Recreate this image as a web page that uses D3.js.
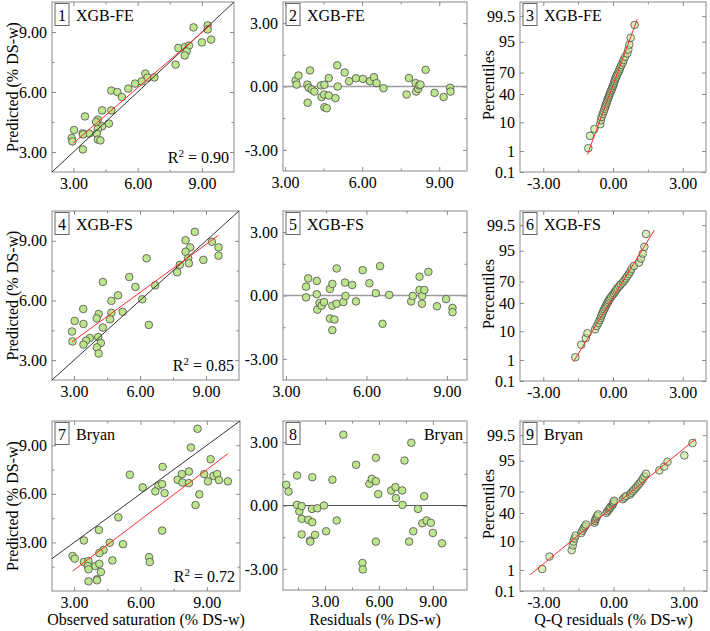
<!DOCTYPE html>
<html>
<head>
<meta charset="utf-8">
<script src="https://cdn.jsdelivr.net/npm/d3@7"></script>
<style>
body { margin: 0; background: #fff; }
svg text { font-family: "Liberation Serif", "DejaVu Serif", serif; fill: #000; }
</style>
</head>
<body>
<div id="chart"></div>
<script>

// ---- data ----
var modelNames = ["XGB-FE", "XGB-FS", "Bryan"];
var r2Labels = ["0.90", "0.85", "0.72"];
var valueTicks = [3, 6, 9];
var valueMinor = [1.5, 4.5, 7.5];
var residTicks = [-3, 0, 3];
var residMinor = [-1.5, 1.5];
var pctTicks = [0.1, 1, 10, 40, 70, 95, 99.5];

// XGB-FE
var obsFE = [8.61, 9.27, 9.27, 9.00, 9.43, 7.90, 8.21, 8.40, 8.29, 8.20, 7.77, 6.36, 6.46, 6.78, 6.19, 5.88, 5.56, 4.77, 5.05, 5.26,
    4.77, 4.34, 3.54, 4.14, 4.06, 4.66, 4.34, 4.14, 3.03, 3.43, 3.74, 4.09, 3.45, 2.92, 2.95, 4.14, 4.26, 3.44];
var predFE = [9.23, 9.33, 9.13, 8.48, 8.62, 8.20, 8.25, 8.32, 8.03, 7.83, 7.37, 6.92, 6.72, 6.73, 6.53, 6.42, 6.17, 6.07, 6.00, 5.75,
    5.08, 5.08, 4.78, 4.62, 4.50, 4.42, 4.28, 4.15, 4.10, 3.93, 3.92, 3.92, 3.88, 3.70, 3.53, 3.62, 3.58, 3.13];
var fitFE = [[3.00, 3.45], [9.43, 9.37]];
var fittedFE = [3.41, 3.45, 3.52, 3.97, 3.87, 3.92, 3.88, 4.04, 4.14, 4.40, 4.53, 4.42, 4.52, 4.53, 4.62, 4.70, 4.70, 4.96, 5.03, 5.05,
    5.32, 5.49, 5.76, 6.03, 6.30, 6.46, 6.56, 6.83, 7.73, 7.82, 8.08, 8.10, 8.18, 8.22, 8.27, 8.47, 8.82, 9.17, 9.42, 9.44];
var residFE = [0.28, 0.09, 0.52, 0.76, 0.09, -0.06, -0.77, -0.14, -0.24, 0.05, 0.08, -0.50, -0.38, -0.98, -1.03, -0.43, 0.40, -0.55, 1.00, 0.00,
    0.66, 0.25, 0.39, 0.36, 0.25, 0.44, 0.16, -0.08, -0.38, 0.40, 0.16, -0.24, -0.11, 0.05, 0.09, 0.79, -0.30, -0.50, -0.06, -0.24];
var qqFE = [-1.06, -0.99, -0.80, -0.55, -0.52, -0.49, -0.44, -0.40, -0.36, -0.33, -0.30, -0.27, -0.24, -0.21, -0.18, -0.15, -0.13, -0.10, -0.06, -0.03,
    0.00, 0.03, 0.05, 0.07, 0.10, 0.13, 0.16, 0.20, 0.25, 0.28, 0.32, 0.36, 0.42, 0.46, 0.52, 0.61, 0.66, 0.70, 0.76, 0.93];
var pctFE = [1.3, 3.8, 6.3, 8.8, 11.3, 13.8, 16.3, 18.8, 21.3, 23.8, 26.3, 28.8, 31.3, 33.8, 36.3, 38.8, 41.3, 43.8, 46.3, 48.8,
    51.3, 53.8, 56.3, 58.8, 61.3, 63.8, 66.3, 68.8, 71.3, 73.8, 76.3, 78.8, 81.3, 83.8, 86.3, 88.8, 91.3, 93.8, 96.3, 98.8];
var qqLineFE = [[-1.10, 0.7], [1.04, 99.3]];

// XGB-FS
var obsFS = [8.49, 8.07, 9.27, 8.28, 8.07, 9.57, 9.57, 8.19, 8.88, 8.22, 6.30, 7.81, 7.69, 5.51, 4.31, 5.79, 6.69, 5.00, 4.70, 6.10,
    3.42, 4.12, 5.21, 4.70, 4.03, 4.64, 3.03, 3.43, 6.40, 4.31, 2.91, 2.93, 3.72, 3.55, 4.10, 3.43, 4.22, 4.04, 4.12];
var predFS = [9.45, 9.03, 8.95, 8.67, 8.45, 8.67, 8.25, 8.12, 8.04, 7.87, 8.12, 7.79, 7.42, 7.18, 6.93, 6.68, 6.76, 6.26, 5.98, 6.06,
    5.57, 5.32, 5.43, 5.38, 5.10, 5.05, 4.97, 4.82, 4.77, 4.64, 4.44, 3.94, 4.11, 3.98, 4.16, 3.78, 3.86, 3.64, 3.33];
var fitFS = [[2.91, 3.91], [9.57, 9.28]];
var fittedFS = [3.75, 3.75, 3.83, 4.15, 4.15, 4.17, 4.25, 4.33, 4.42, 4.64, 4.73, 4.64, 4.81, 4.73, 4.73, 4.89, 4.89, 5.14, 5.20, 5.22,
    5.47, 5.61, 5.86, 6.11, 6.35, 6.51, 6.60, 6.85, 7.67, 7.73, 7.98, 7.98, 8.07, 8.08, 8.16, 8.31, 8.63, 8.97, 9.21, 9.21];
var residFS = [0.42, -0.09, 0.81, 0.69, 0.06, -0.67, -0.36, -0.48, -0.31, 0.31, 0.55, -1.09, -1.14, -1.64, -0.48, -0.39, 1.28, -0.31, 0.61, -0.02,
    0.50, -0.28, 1.20, 0.58, 0.11, 1.39, -1.34, 0.03, -0.28, -0.02, 0.89, 0.26, -0.39, -0.02, 0.26, 1.12, -0.51, -0.17, -0.59, -0.79];
var qqFS = [-1.62, -1.37, -1.17, -1.10, -0.77, -0.70, -0.63, -0.58, -0.53, -0.50, -0.46, -0.42, -0.38, -0.34, -0.30, -0.26, -0.22, -0.18, -0.13, -0.08,
    -0.02, 0.04, 0.09, 0.14, 0.19, 0.27, 0.33, 0.42, 0.48, 0.55, 0.61, 0.68, 0.75, 0.80, 0.90, 1.12, 1.20, 1.28, 1.35, 1.42];
var pctFS = [1.3, 3.8, 6.3, 8.8, 11.3, 13.8, 16.3, 18.8, 21.3, 23.8, 26.3, 28.8, 31.3, 33.8, 36.3, 38.8, 41.3, 43.8, 46.3, 48.8,
    51.3, 53.8, 56.3, 58.8, 61.3, 63.8, 66.3, 68.8, 71.3, 73.8, 76.3, 78.8, 81.3, 83.8, 86.3, 88.8, 91.3, 93.8, 96.3, 98.8];
var qqLineFS = [[-1.70, 0.85], [1.78, 99.17]];

// Bryan
var obsBr = [8.58, 8.28, 9.17, 5.52, 7.00, 8.19, 7.87, 7.68, 7.90, 8.19, 8.88, 9.30, 9.47, 9.55, 9.05, 9.95, 6.10, 6.81, 6.98, 6.67,
    7.09, 8.66, 8.49, 5.00, 4.12, 6.98, 3.44, 4.61, 5.21, 4.33, 4.14, 2.93, 3.03, 3.44, 3.65, 4.73, 6.39, 6.42, 3.62, 3.96,
    4.14, 3.65, 4.21, 3.65, 4.03, 4.03];
var predBr = [10.02, 8.86, 8.14, 7.18, 7.67, 7.38, 7.22, 6.87, 6.70, 6.66, 7.22, 7.11, 7.22, 6.85, 6.77, 6.77, 6.40, 6.50, 6.60, 6.15,
    6.05, 5.97, 5.31, 4.55, 3.77, 3.73, 3.12, 2.98, 2.89, 2.53, 2.34, 2.16, 2.00, 1.79, 1.85, 1.89, 2.09, 1.79, 1.54, 1.54,
    1.68, 1.34, 1.17, 0.60, 0.72, 0.66];
var fitBr = [[2.93, 1.23], [9.96, 8.49]];
var fittedBr = [0.84, 0.97, 1.44, 1.44, 1.57, 1.70, 1.70, 1.70, 2.07, 2.16, 2.18, 2.29, 2.29, 2.27, 2.44, 2.57, 2.94, 3.06, 3.41, 3.65,
    4.02, 4.73, 5.08, 5.10, 5.47, 5.60, 5.83, 5.83, 5.83, 5.96, 6.68, 6.92, 6.94, 7.29, 7.31, 7.42, 7.80, 7.68, 7.91, 8.17,
    8.41, 8.52, 8.65, 8.89, 9.00, 9.51];
var residBr = [0.98, 0.66, 1.42, 0.03, -0.28, -0.03, -0.63, -1.37, -0.68, -1.66, -1.71, -0.79, 1.34, -0.16, -1.39, -0.13, 0.00, -1.22, 1.22, -0.71,
    3.35, 1.93, -2.72, -3.03, 1.03, 1.26, 1.15, 2.26, -1.71, 0.54, 0.71, 0.87, 0.35, 0.71, 0.03, 2.13, 2.97, -1.71, -1.22, -0.16,
    -0.84, 0.44, -0.71, -0.82, -1.30, -1.79];
var qqBr = [-3.05, -2.74, -1.79, -1.74, -1.71, -1.67, -1.62, -1.38, -1.33, -1.28, -1.22, -1.18, -0.81, -0.79, -0.77, -0.73, -0.70, -0.66, -0.30, -0.26,
    -0.20, -0.16, -0.13, -0.05, -0.02, 0.00, 0.03, 0.40, 0.47, 0.54, 0.71, 0.76, 0.83, 0.90, 0.97, 1.04, 1.11, 1.18, 1.25, 1.32,
    1.39, 1.96, 2.17, 2.31, 3.03, 3.38];
var pctBr = [1.1, 3.3, 5.4, 7.6, 9.8, 12.0, 14.1, 16.3, 18.5, 20.7, 22.8, 25.0, 27.2, 29.3, 31.5, 33.7, 35.9, 38.0, 40.2, 42.4,
    44.6, 46.7, 48.9, 51.1, 53.3, 55.4, 57.6, 59.8, 62.0, 64.1, 66.3, 68.5, 70.7, 72.8, 75.0, 77.2, 79.3, 81.5, 83.7, 85.9,
    88.0, 90.2, 92.4, 94.6, 96.7, 98.9];
var qqLineBr = [[-3.56, 0.63], [3.52, 99.27]];

// ---- layout ----
var panels = [
    {id: "1", kind: "fit", m: 0, box: [52, 234, 2, 172], xd: [2, 10.5], yd: [2, 10.5], x: obsFE, y: predFE, line: fitFE},
    {id: "2", kind: "res", m: 0, box: [283, 467, 2, 171], xd: [2.92, 10.08], yd: [-4, 4], x: fittedFE, y: residFE, zero: "#9c9c9c", zw: 1.5},
    {id: "3", kind: "qq", m: 0, box: [520, 706, 2, 172], xd: [-4, 4], x: qqFE, y: pctFE, line: qqLineFE},
    {id: "4", kind: "fit", m: 1, box: [52, 239, 211, 380], xd: [2, 10.5], yd: [2, 10.5], x: obsFS, y: predFS, line: fitFS},
    {id: "5", kind: "res", m: 1, box: [283, 467, 211, 380], xd: [2.89, 9.75], yd: [-4, 4], x: fittedFS, y: residFS, zero: "#9c9c9c", zw: 1.5},
    {id: "6", kind: "qq", m: 1, box: [520, 706, 211, 381], xd: [-4, 4], x: qqFS, y: pctFS, line: qqLineFS},
    {id: "7", kind: "fit", m: 2, box: [52, 240, 421, 591], xd: [2, 10.5], yd: [0, 10.5], x: obsBr, y: predBr, line: fitBr,
        xTitle: "Observed saturation (% DS-w)"},
    {id: "8", kind: "res", m: 2, box: [283, 467, 421, 590], xd: [0.66, 10.9], yd: [-4, 4], x: fittedBr, y: residBr, zero: "#555", zw: 1,
        nameRight: true, xTitle: "Residuals (% DS-w)"},
    {id: "9", kind: "qq", m: 2, box: [520, 707, 421, 591], xd: [-4, 4], x: qqBr, y: pctBr, line: qqLineBr,
        xTitle: "Q-Q residuals (% DS-w)"}
];

// inverse normal CDF (Acklam), for the probability axis
function probit(p) {
    var a = [-3.969683028665376e+01, 2.209460984245205e+02, -2.759285104469687e+02, 1.383577518672690e+02, -3.066479806614716e+01, 2.506628277459239e+00];
    var b = [-5.447609879822406e+01, 1.615858368580409e+02, -1.556989798598866e+02, 6.680131188771972e+01, -1.328068155288572e+01];
    var c = [-7.784894002430293e-03, -3.223964580411365e-01, -2.400758277161838e+00, -2.549671348283232e+00, 4.374664141464968e+00, 2.938163982698783e+00];
    var d = [7.784695709041462e-03, 3.224671290700398e-01, 2.445134137142996e+00, 3.754408661907416e+00];
    var q, r;
    if (p < 0.02425) {
        q = Math.sqrt(-2 * Math.log(p));
        return (((((c[0] * q + c[1]) * q + c[2]) * q + c[3]) * q + c[4]) * q + c[5]) / ((((d[0] * q + d[1]) * q + d[2]) * q + d[3]) * q + 1);
    }
    if (p > 1 - 0.02425) {
        q = Math.sqrt(-2 * Math.log(1 - p));
        return -(((((c[0] * q + c[1]) * q + c[2]) * q + c[3]) * q + c[4]) * q + c[5]) / ((((d[0] * q + d[1]) * q + d[2]) * q + d[3]) * q + 1);
    }
    q = p - 0.5;
    r = q * q;
    return (((((a[0] * r + a[1]) * r + a[2]) * r + a[3]) * r + a[4]) * r + a[5]) * q / (((((b[0] * r + b[1]) * r + b[2]) * r + b[3]) * r + b[4]) * r + 1);
}

var frameColor = "#8a8a8a";
var fmt = function(d) { return d.toFixed(2); };

var svg = d3.select("#chart").append("svg")
    .attr("width", 710)
    .attr("height", 631);

function styleAxis(sel) {
    sel.select(".domain").remove();
    sel.selectAll(".tick line").attr("stroke", frameColor);
    sel.selectAll(".tick text").attr("font-size", 16).attr("fill", "#000")
        .attr("font-family", "'Liberation Serif', serif");
}

panels.forEach(function(p) {
    var L = p.box[0], R = p.box[1], T = p.box[2], B = p.box[3];
    var xs = d3.scaleLinear().domain(p.xd).range([L, R]);
    var ys, yv, yTickVals, yTickFmt, yMinor = [];
    if (p.kind == "qq") {
        ys = d3.scaleLinear().domain([probit(0.001), probit(0.999)]).range([B, T]);
        yv = function(v) { return ys(probit(v / 100)); };
        yTickVals = pctTicks.map(function(v) { return probit(v / 100); });
        yTickFmt = function(d, i) { return String(pctTicks[i]); };
    } else {
        ys = d3.scaleLinear().domain(p.yd).range([B, T]);
        yv = ys;
        yTickVals = p.kind == "fit" ? valueTicks : residTicks;
        yTickFmt = fmt;
        yMinor = (p.kind == "fit" ? valueMinor : residMinor).filter(function(v) {
            return v > p.yd[0] + 0.1 && v < p.yd[1] - 0.1;
        });
    }
    var xTickVals = p.kind == "qq" ? residTicks : valueTicks;
    var xMinor = (p.kind == "qq" ? residMinor : valueMinor).filter(function(v) {
        return v > p.xd[0] + 0.1 && v < p.xd[1] - 0.1;
    });

    var g = svg.append("g");

    g.append("rect")
        .attr("x", L).attr("y", T)
        .attr("width", R - L).attr("height", B - T)
        .attr("fill", "none")
        .attr("stroke", frameColor)
        .attr("stroke-width", 1);

    // major axes with labels
    g.append("g").attr("transform", "translate(0," + B + ")")
        .call(d3.axisBottom(xs).tickValues(xTickVals).tickSize(-4).tickPadding(6).tickFormat(fmt))
        .call(styleAxis);
    g.append("g").attr("transform", "translate(" + L + ",0)")
        .call(d3.axisLeft(ys).tickValues(yTickVals).tickSize(-4).tickPadding(5).tickFormat(yTickFmt))
        .call(styleAxis);
    // mirrored ticks
    g.append("g").attr("transform", "translate(0," + T + ")")
        .call(d3.axisTop(xs).tickValues(xTickVals).tickSize(-4).tickFormat(""))
        .call(styleAxis);
    g.append("g").attr("transform", "translate(" + R + ",0)")
        .call(d3.axisRight(ys).tickValues(yTickVals).tickSize(-4).tickFormat(""))
        .call(styleAxis);
    // minor ticks
    g.append("g").attr("transform", "translate(0," + B + ")")
        .call(d3.axisBottom(xs).tickValues(xMinor).tickSize(-2.5).tickFormat(""))
        .call(styleAxis);
    g.append("g").attr("transform", "translate(0," + T + ")")
        .call(d3.axisTop(xs).tickValues(xMinor).tickSize(-2.5).tickFormat(""))
        .call(styleAxis);
    g.append("g").attr("transform", "translate(" + L + ",0)")
        .call(d3.axisLeft(ys).tickValues(yMinor).tickSize(-2.5).tickFormat(""))
        .call(styleAxis);
    g.append("g").attr("transform", "translate(" + R + ",0)")
        .call(d3.axisRight(ys).tickValues(yMinor).tickSize(-2.5).tickFormat(""))
        .call(styleAxis);

    if (p.kind == "res") {
        g.append("line")
            .attr("x1", L).attr("x2", R)
            .attr("y1", ys(0)).attr("y2", ys(0))
            .attr("stroke", p.zero)
            .attr("stroke-width", p.zw);
    }

    g.selectAll("circle")
        .data(d3.zip(p.x, p.y))
        .enter()
        .append("circle")
        .attr("cx", function(d) { return xs(d[0]); })
        .attr("cy", function(d) { return yv(d[1]); })
        .attr("r", 3.8)
        .attr("fill", "#bde58b")
        .attr("fill-opacity", p.kind == "qq" ? 0.6 : 1)
        .attr("stroke", "#4d4d4d")
        .attr("stroke-width", 0.8);

    if (p.kind == "fit") {
        var lo = Math.max(p.xd[0], p.yd[0]), hi = Math.min(p.xd[1], p.yd[1]);
        g.append("line")
            .attr("x1", xs(lo)).attr("y1", ys(lo))
            .attr("x2", xs(hi)).attr("y2", ys(hi))
            .attr("stroke", "#333")
            .attr("stroke-width", 1);
    }
    if (p.line) {
        g.append("line")
            .attr("x1", xs(p.line[0][0])).attr("y1", yv(p.line[0][1]))
            .attr("x2", xs(p.line[1][0])).attr("y2", yv(p.line[1][1]))
            .attr("stroke", "#ff2b2b")
            .attr("stroke-width", 1);
    }

    // panel tag
    g.append("rect")
        .attr("x", L + 3).attr("y", T + 1.5)
        .attr("width", 14).attr("height", 22)
        .attr("fill", "#fff")
        .attr("stroke", "#666")
        .attr("stroke-width", 1);
    g.append("text")
        .attr("x", L + 10).attr("y", T + 19)
        .attr("text-anchor", "middle")
        .attr("font-size", 16)
        .text(p.id);
    g.append("text")
        .attr("x", p.nameRight ? R - 4 : L + 24)
        .attr("y", T + 19)
        .attr("text-anchor", p.nameRight ? "end" : "start")
        .attr("font-size", 16)
        .text(modelNames[p.m]);

    if (p.kind == "fit") {
        var rt = g.append("text")
            .attr("x", R - 5).attr("y", B - 9)
            .attr("text-anchor", "end")
            .attr("font-size", 16);
        rt.append("tspan").text("R");
        rt.append("tspan").attr("dy", -6).attr("font-size", 11).text("2");
        rt.append("tspan").attr("dy", 6).text(" = " + r2Labels[p.m]);

        svg.append("text")
            .attr("transform", "translate(18," + (T + B) / 2 + ") rotate(-90)")
            .attr("text-anchor", "middle")
            .attr("font-size", 16)
            .text("Predicted (% DS-w)");
    }
    if (p.kind == "qq") {
        svg.append("text")
            .attr("transform", "translate(494," + ((T + B) / 2 - 2) + ") rotate(-90)")
            .attr("text-anchor", "middle")
            .attr("font-size", 16)
            .text("Percentiles");
    }
    if (p.xTitle) {
        svg.append("text")
            .attr("x", (L + R) / 2).attr("y", 625)
            .attr("text-anchor", "middle")
            .attr("font-size", 16)
            .text(p.xTitle);
    }
});
</script>
</body>
</html>
